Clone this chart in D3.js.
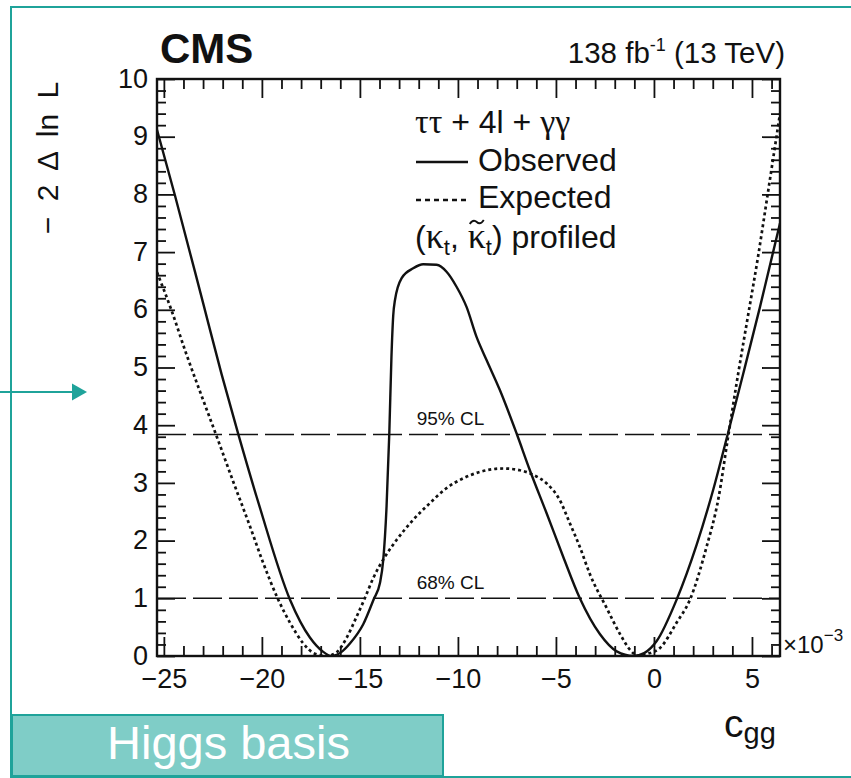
<!DOCTYPE html>
<html>
<head>
<meta charset="utf-8">
<script src="https://cdn.jsdelivr.net/npm/d3@7"></script>
<style>
  html, body { margin: 0; padding: 0; background: #fff; }
  svg { display: block; }
  text { font-family: "Liberation Sans", Arial, Helvetica, sans-serif; fill: #111; }
</style>
</head>
<body>
<svg id="chart" width="851" height="778"></svg>
<script>
// Profiled likelihood scan in c_gg (units of 1e-3)
const cggObs = [-25.35, -24.44, -23.0, -22.06, -21.2, -20.1, -18.57, -17.55, -16.9, -16.45,
  -15.9, -15.5, -14.83, -14.3, -13.98, -13.81, -13.64, -13.5, -13.39, -13.3, -13.21,
  -12.87, -12.28, -11.77, -11.09, -10.58, -10.07, -9.56, -9.05, -8.54, -7.86, -7.01,
  -6.33, -5.47, -4.63, -3.78, -2.76, -1.9, -1.05, -0.5, 0.14, 1.16, 2.18, 3.03, 3.76,
  4.56, 5.41, 6.43];
const nllObs = [9.12, 7.99, 6.12, 4.89, 3.84, 2.57, 0.98, 0.32, 0.08, 0.0,
  0.08, 0.22, 0.55, 0.98, 1.26, 1.66, 2.59, 3.86, 5.19, 5.9, 6.17,
  6.55, 6.72, 6.79, 6.78, 6.66, 6.40, 6.05, 5.53, 5.13, 4.61, 3.86,
  3.22, 2.47, 1.72, 1.0, 0.38, 0.08, 0.0, 0.05, 0.26, 0.98, 1.93, 2.89, 3.84,
  4.9, 6.05, 7.5];

const cggExp = [-25.35, -24.61, -23.84, -23.0, -22.31, -21.46, -20.61, -19.93, -19.17,
  -18.57, -17.89, -17.3, -16.7, -16.2, -15.7, -15.17, -14.75, -14.32, -13.72, -13.13,
  -12.28, -11.43, -10.58, -9.73, -8.88, -7.69, -6.84, -6.16, -5.47, -4.8, -4.29, -3.78,
  -3.27, -2.41, -1.73, -1.2, -0.8, -0.3, 0.31, 1.16, 1.84, 2.65, 3.3, 3.76, 4.3, 4.8,
  5.3, 5.8, 6.43];
const nllExp = [6.65, 5.99, 5.22, 4.44, 3.81, 3.02, 2.25, 1.61, 0.98,
  0.58, 0.22, 0.04, 0.0, 0.06, 0.3, 0.68, 1.0, 1.35, 1.72, 2.01,
  2.36, 2.65, 2.91, 3.08, 3.19, 3.25, 3.22, 3.14, 2.99, 2.70, 2.30, 1.89,
  1.42, 0.83, 0.38, 0.1, 0.0, 0.04, 0.14, 0.58, 0.98, 1.85, 2.75, 3.75, 4.9, 5.9,
  6.9, 8.0, 9.4];

const clLevels = [1.0, 3.84];
const clLabels = ["68% CL", "95% CL"];

const xMajorTicks = [-25, -20, -15, -10, -5, 0, 5];
const yMajorTicks = [0, 1, 2, 3, 4, 5, 6, 7, 8, 9, 10];
const xDomain = [-25.35, 6.43];
const yDomain = [0, 10];

const teal = "#1fa39a";
const tealFill = "#7fcdc7";

const svg = d3.select("#chart");

// Plot frame geometry
const L = 157, R = 780, T = 79, B = 656;
const x = d3.scaleLinear().domain(xDomain).range([L, R]);
const y = d3.scaleLinear().domain(yDomain).range([B, T]);

// Outer presentation frame and pointer arrow
svg.append("rect").attr("x", 11).attr("y", 7).attr("width", 860).attr("height", 770)
  .attr("fill", "none").attr("stroke", teal).attr("stroke-width", 2);
svg.append("line").attr("x1", 0).attr("x2", 75).attr("y1", 392).attr("y2", 392)
  .attr("stroke", teal).attr("stroke-width", 2);
svg.append("path").attr("d", "M72,383.5 L87,392 L72,400.5 Z").attr("fill", teal);

// Minor tick positions
const xMinor = d3.range(-25, 7, 1).filter(v => !xMajorTicks.includes(v));
const yMinor = d3.range(0, 10.01, 0.2).map(v => +v.toFixed(1)).filter(v => !yMajorTicks.includes(v));

const gAxes = svg.append("g");
function drawAxis(axisFn, scale, translate, values, size, labels) {
  const a = axisFn(scale).tickValues(values).tickSizeInner(size).tickSizeOuter(0);
  if (!labels) a.tickFormat("");
  const g = gAxes.append("g").attr("transform", translate).call(a);
  g.select(".domain").remove();
  g.selectAll(".tick line").attr("stroke", "#111").attr("stroke-width", 1.8);
  return g;
}
// bottom
const gxb = drawAxis(d3.axisBottom, x, `translate(0,${B})`, xMajorTicks, -19, true);
drawAxis(d3.axisBottom, x, `translate(0,${B})`, xMinor, -10, false);
// top
drawAxis(d3.axisTop, x, `translate(0,${T})`, xMajorTicks, -19, false);
drawAxis(d3.axisTop, x, `translate(0,${T})`, xMinor, -10, false);
// left
const gyl = drawAxis(d3.axisLeft, y, `translate(${L},0)`, yMajorTicks, -18, true);
drawAxis(d3.axisLeft, y, `translate(${L},0)`, yMinor, -9, false);
// right
drawAxis(d3.axisRight, y, `translate(${R},0)`, yMajorTicks, -18, false);
drawAxis(d3.axisRight, y, `translate(${R},0)`, yMinor, -9, false);

gxb.selectAll(".tick text").attr("font-size", 27).attr("font-family", "Liberation Sans")
  .attr("fill", "#111").attr("y", 13).attr("dy", "0.71em");
gyl.selectAll(".tick text").attr("font-size", 27).attr("font-family", "Liberation Sans")
  .attr("fill", "#111").attr("x", -9).attr("dy", "0.3em");

// CL reference lines
const gcl = svg.append("g");
clLevels.forEach((lv, i) => {
  gcl.append("line").attr("x1", L).attr("x2", R).attr("y1", y(lv)).attr("y2", y(lv))
    .attr("stroke", "#111").attr("stroke-width", 1.6).attr("stroke-dasharray", "29,7");
  gcl.append("text").attr("x", x(-12.1)).attr("y", y(lv) - 9).attr("font-size", 19)
    .text(clLabels[i]);
});

// Curves
svg.append("clipPath").attr("id", "plotclip").append("rect")
  .attr("x", L).attr("y", T).attr("width", R - L).attr("height", B - T);
const line = d3.line().x(d => x(d[0])).y(d => y(d[1])).curve(d3.curveMonotoneX);
const gCurves = svg.append("g").attr("clip-path", "url(#plotclip)");
gCurves.append("path").datum(d3.zip(cggExp, nllExp)).attr("d", line)
  .attr("fill", "none").attr("stroke", "#111").attr("stroke-width", 2.7)
  .attr("stroke-dasharray", "3,3");
gCurves.append("path").datum(d3.zip(cggObs, nllObs)).attr("d", line)
  .attr("fill", "none").attr("stroke", "#111").attr("stroke-width", 2.4);

// Plot frame
svg.append("rect").attr("x", L).attr("y", T).attr("width", R - L).attr("height", B - T)
  .attr("fill", "none").attr("stroke", "#111").attr("stroke-width", 2.4);

// Header texts
svg.append("text").attr("x", 160).attr("y", 63).attr("font-size", 42).attr("font-weight", "bold")
  .text("CMS");
const lumi = svg.append("text").attr("x", 785).attr("y", 63).attr("font-size", 29.5)
  .attr("text-anchor", "end");
lumi.append("tspan").text("138 fb");
lumi.append("tspan").attr("font-size", 18).attr("dy", -12).text("-1");
lumi.append("tspan").attr("dy", 12).text(" (13 TeV)");

// Legend
const serif = "Liberation Serif, DejaVu Serif, serif";
const lg = svg.append("g").attr("font-size", 32);
const t1 = lg.append("text").attr("x", 415).attr("y", 133);
t1.append("tspan").attr("font-family", serif).attr("font-size", 34).text("ττ");
t1.append("tspan").text(" + 4l + ");
t1.append("tspan").attr("font-family", serif).attr("font-size", 34).text("γγ");
lg.append("line").attr("x1", 416).attr("x2", 468).attr("y1", 162).attr("y2", 162)
  .attr("stroke", "#111").attr("stroke-width", 2.4);
lg.append("text").attr("x", 478).attr("y", 171).text("Observed");
lg.append("line").attr("x1", 416).attr("x2", 468).attr("y1", 200).attr("y2", 200)
  .attr("stroke", "#111").attr("stroke-width", 2.4).attr("stroke-dasharray", "5,4");
lg.append("text").attr("x", 478).attr("y", 208).text("Expected");
const t4 = lg.append("text").attr("x", 415).attr("y", 248);
t4.append("tspan").text("(");
t4.append("tspan").attr("font-family", serif).attr("font-size", 36).text("κ");
t4.append("tspan").attr("font-size", 22).attr("dy", 7).text("t");
t4.append("tspan").attr("dy", -7).text(", ");
const kappa2 = t4.append("tspan").attr("font-family", serif).attr("font-size", 36).text("κ");
t4.append("tspan").attr("font-size", 22).attr("dy", 7).text("t");
t4.append("tspan").attr("dy", -7).text(") profiled");
// tilde accent over the second kappa, drawn as a small wave
const kb = kappa2.node().getBBox();
const tx = kb.x + kb.width / 2, ty = 248 - 26;
lg.append("path")
  .attr("d", `M${tx - 7},${ty + 2} C${tx - 4},${ty - 3} ${tx - 1},${ty - 1} ${tx},${ty}` +
             ` S${tx + 4},${ty + 3} ${tx + 7},${ty - 2}`)
  .attr("fill", "none").attr("stroke", "#111").attr("stroke-width", 1.8);

// Axis titles
svg.append("text").attr("transform", "translate(58,158) rotate(-90)")
  .attr("text-anchor", "middle").attr("font-size", 30).attr("word-spacing", 7)
  .text("− 2 Δ ln L");
const xt = svg.append("text").attr("x", 724).attr("y", 737).attr("font-size", 39);
xt.append("tspan").text("c");
xt.append("tspan").attr("font-size", 29).attr("dy", 6).text("gg");
const sc = svg.append("text").attr("x", 783).attr("y", 653).attr("font-size", 24);
sc.append("tspan").text("×10");
sc.append("tspan").attr("font-size", 17).attr("dy", -12).text("−3");

// Basis tag
svg.append("rect").attr("x", 12).attr("y", 715).attr("width", 431).attr("height", 61)
  .attr("fill", tealFill).attr("stroke", teal).attr("stroke-width", 2);
svg.append("text").attr("x", 107).attr("y", 759).attr("font-size", 47)
  .attr("font-family", "Lato, 'Open Sans', sans-serif").attr("font-weight", 300)
  .style("fill", "#fff").text("Higgs basis");
</script>
</body>
</html>
